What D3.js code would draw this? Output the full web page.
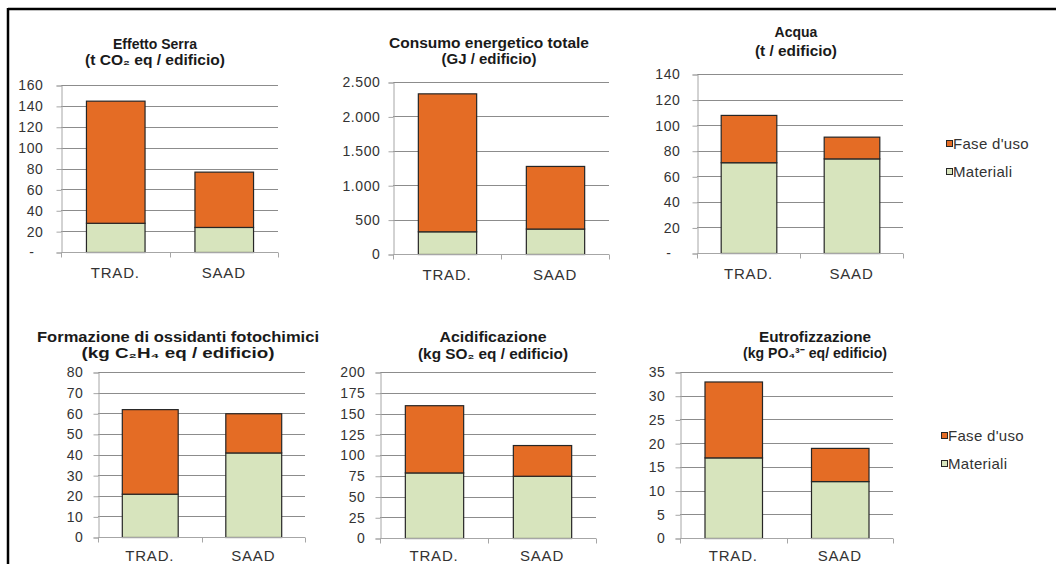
<!DOCTYPE html>
<html>
<head>
<meta charset="utf-8">
<script src="https://cdn.jsdelivr.net/npm/d3@7"></script>
<style>
  html, body { margin: 0; padding: 0; background: #fff; }
  svg { display: block; font-family: "Liberation Sans", Arial, sans-serif; }
</style>
</head>
<body>
<svg id="chart" width="1056" height="564"></svg>
<script>
// ---- data ----
const categories = ["TRAD.", "SAAD"];
const seriesNames = ["Fase d'uso", "Materiali"];
const titleLine1 = ["Effetto Serra", "Consumo energetico totale", "Acqua",
                    "Formazione di ossidanti fotochimici", "Acidificazione", "Eutrofizzazione"];
const titleLine2 = ["(t CO\u2082 eq / edificio)", "(GJ / edificio)", "(t / edificio)",
                    "(kg C\u2082H\u2084 eq / edificio)", "(kg SO\u2082 eq / edificio)", "(kg PO\u2084\u00B3\u207B eq/ edificio)"];
const materiali = [[28, 24], [330, 370], [71, 74], [21, 41], [79, 75], [17, 12]];
const faseUso   = [[117, 53], [2005, 910], [37, 17], [41, 19], [81, 37], [16, 7]];
const yMax = [160, 2500, 140, 80, 200, 35];
const yTickValues = [
  [0, 20, 40, 60, 80, 100, 120, 140, 160],
  [0, 500, 1000, 1500, 2000, 2500],
  [0, 20, 40, 60, 80, 100, 120, 140],
  [0, 10, 20, 30, 40, 50, 60, 70, 80],
  [0, 25, 50, 75, 100, 125, 150, 175, 200],
  [0, 5, 10, 15, 20, 25, 30, 35]
];
const yTickLabels = [
  ["-", "20", "40", "60", "80", "100", "120", "140", "160"],
  ["0", "500", "1.000", "1.500", "2.000", "2.500"],
  ["-", "20", "40", "60", "80", "100", "120", "140"],
  ["0", "10", "20", "30", "40", "50", "60", "70", "80"],
  ["0", "25", "50", "75", "100", "125", "150", "175", "200"],
  ["0", "5", "10", "15", "20", "25", "30", "35"]
];

// ---- layout (positions / sizes only) ----
const layout = [
  {x0: 61,  x1: 278, yT: 85,  yB: 252, cx: 155, t1: 49,  t2: 65,  w1: null, w2: 140, gap: 18, cy: 25},
  {x0: 393, x1: 609, yT: 82,  yB: 254, cx: 489, t1: 48,  t2: 64,  w1: 200,  w2: 95,  gap: 13, cy: 25},
  {x0: 697, x1: 903, yT: 74,  yB: 253, cx: 796, t1: 37,  t2: 56,  w1: null, w2: 82,  gap: 17, cy: 25},
  {x0: 98,  x1: 305, yT: 372, yB: 537, cx: 178, t1: 342, t2: 358, w1: 282,  w2: 193, gap: 15, cy: 23},
  {x0: 380, x1: 596, yT: 372, yB: 538, cx: 493, t1: 342, t2: 359, w1: 107,  w2: 150, gap: 15, cy: 22},
  {x0: 680, x1: 893, yT: 372, yB: 538, cx: 815, t1: 342, t2: 358, w1: 112,  w2: 144, gap: 15, cy: 22}
];
const legendPos = [{x: 946, y: 144}, {x: 941, y: 436}];

const colors = {"Fase d'uso": "#E46C25", "Materiali": "#D7E4BD"};
const svg = d3.select("#chart");

// frame
svg.append("line").attr("x1", 8).attr("x2", 1056).attr("y1", 9).attr("y2", 9)
  .attr("stroke", "#000").attr("stroke-width", 2.5);
svg.append("line").attr("x1", 8).attr("x2", 8).attr("y1", 8).attr("y2", 564)
  .attr("stroke", "#000").attr("stroke-width", 2.5);

layout.forEach((L, i) => {
  const g = svg.append("g");
  const x = d3.scaleBand().domain(categories).range([L.x0, L.x1])
    .paddingInner(0.46).paddingOuter(0.23);
  const y = d3.scaleLinear().domain([0, yMax[i]]).range([L.yB, L.yT]);

  // gridlines
  g.selectAll("line.grid").data(yTickValues[i].filter(v => v > 0)).join("line")
    .attr("x1", L.x0).attr("x2", L.x1)
    .attr("y1", d => Math.round(y(d)) + 0.5).attr("y2", d => Math.round(y(d)) + 0.5)
    .attr("stroke", "#8c8c8c").attr("stroke-width", 1);

  // y axis
  const yAxis = d3.axisLeft(y).tickValues(yTickValues[i]).tickSize(5).tickPadding(L.gap - 5)
    .tickFormat((d, k) => yTickLabels[i][k]);
  const ya = g.append("g").attr("transform", `translate(${L.x0 + 0.5},0.5)`).call(yAxis);
  ya.select(".domain").attr("stroke", "#a6a6a6");
  ya.selectAll(".tick line").attr("stroke", "#a6a6a6");
  ya.selectAll(".tick text")
    .attr("font-size", 14).attr("fill", "#333").attr("letter-spacing", "0.6px")
    .attr("font-family", "'Liberation Sans', Arial, sans-serif")
    .attr("dx", d => (d === 0 && yTickLabels[i][0] === "-") ? -9 : 0);

  // stacked bars
  const rows = categories.map((c, k) => ({cat: c, "Materiali": materiali[i][k], "Fase d'uso": faseUso[i][k]}));
  const stack = d3.stack().keys(["Materiali", "Fase d'uso"])(rows);
  stack.forEach(layer => {
    g.selectAll(null).data(layer).join("rect")
      .attr("x", d => x(d.data.cat) + 0.5)
      .attr("width", x.bandwidth())
      .attr("y", d => y(d[1]) + 0.5)
      .attr("height", d => y(d[0]) - y(d[1]))
      .attr("fill", colors[layer.key])
      .attr("stroke", "#262626").attr("stroke-width", 1.2);
  });

  // x axis
  const xa = g.append("g").attr("transform", `translate(0,${L.yB + 0.5})`);
  xa.append("line").attr("x1", L.x0).attr("x2", L.x1).attr("stroke", "#a6a6a6");
  const bounds = [L.x0, (L.x0 + L.x1) / 2, L.x1];
  xa.selectAll("line.t").data(bounds).join("line")
    .attr("x1", d => Math.round(d) + 0.5).attr("x2", d => Math.round(d) + 0.5)
    .attr("y1", 0).attr("y2", 5).attr("stroke", "#a6a6a6");
  xa.selectAll("text").data(categories).join("text")
    .attr("x", d => x(d) + x.bandwidth() / 2)
    .attr("y", L.cy)
    .attr("text-anchor", "middle")
    .attr("font-size", 15).attr("letter-spacing", "0.8px").attr("fill", "#333")
    .text(d => d);

  // titles
  const tt1 = g.append("text").attr("x", L.cx).attr("y", L.t1).attr("text-anchor", "middle")
    .attr("font-size", 14).attr("font-weight", "bold").attr("fill", "#1a1a1a")
    .text(titleLine1[i]);
  if (L.w1) tt1.attr("textLength", L.w1).attr("lengthAdjust", "spacingAndGlyphs");
  g.append("text").attr("x", L.cx).attr("y", L.t2).attr("text-anchor", "middle")
    .attr("font-size", 14).attr("font-weight", "bold").attr("fill", "#1a1a1a")
    .attr("textLength", L.w2).attr("lengthAdjust", "spacingAndGlyphs")
    .text(titleLine2[i]);
});

// legends
legendPos.forEach(P => {
  const lg = svg.append("g").attr("transform", `translate(${P.x},${P.y})`);
  seriesNames.forEach((s, k) => {
    const row = lg.append("g").attr("transform", `translate(0,${k * 28})`);
    row.append("rect").attr("x", 0.5).attr("y", -3.5).attr("width", 6).attr("height", 6)
      .attr("fill", colors[s]).attr("stroke", "#262626").attr("stroke-width", 1);
    row.append("text").attr("x", 7).attr("y", 5)
      .attr("font-size", 15).attr("letter-spacing", "0.3px").attr("fill", "#333")
      .text(s);
  });
});
</script>
</body>
</html>
